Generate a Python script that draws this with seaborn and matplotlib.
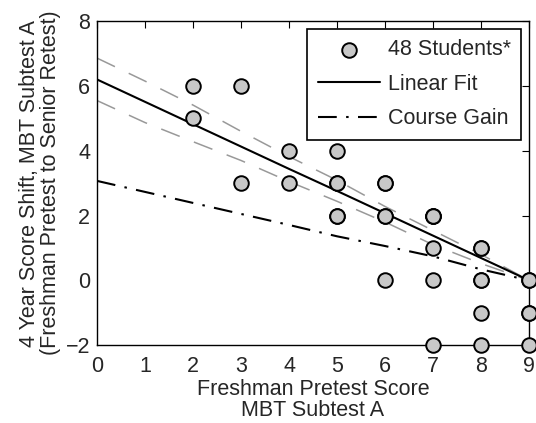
import matplotlib
matplotlib.use("Agg")
import matplotlib.pyplot as plt
import seaborn as sns
import pandas as pd

# Student scores (duplicates are drawn on top of each other)
pretest = [2, 2, 3, 3, 4, 4, 5, 5, 5, 5, 5, 6, 6, 6, 6, 6,
           7, 7, 7, 7, 7, 7, 8, 8, 8, 8, 8, 8, 9, 9, 9, 9, 9]
shift = [6, 5, 6, 3, 4, 3, 4, 3, 3, 2, 2, 3, 2, 2, 0, 3,
         2, 2, 1, 0, -2, 2, 1, 1, 0, 0, -1, -2, 0, 0, -1, -1, -2]

# Fit curves read at integer pretest scores
fit_x = [0, 1, 2, 3, 4, 5, 6, 7, 8, 9]
fit_y = [6.2, 5.51, 4.82, 4.13, 3.44, 2.76, 2.07, 1.38, 0.69, 0.0]
fit_upper = [6.86, 6.15, 5.41, 4.6, 3.82, 3.09, 2.28, 1.54, 0.8, 0.0]
fit_lower = [5.55, 4.87, 4.28, 3.7, 3.05, 2.44, 1.8, 1.1, 0.52, 0.0]
gain_y = [3.07, 2.73, 2.39, 2.05, 1.71, 1.36, 1.06, 0.74, 0.34, 0.0]

sns.set_style("white")
plt.rcParams["font.family"] = ["Liberation Sans", "DejaVu Sans"]
FS = 15.5

fig, ax = plt.subplots(figsize=(5.36, 4.23), dpi=100)

curves = pd.DataFrame({"x": fit_x, "fit": fit_y, "up": fit_upper,
                       "lo": fit_lower, "gain": gain_y})

sns.lineplot(data=curves, x="x", y="up", ax=ax, color="#999999", lw=1.1,
             linestyle=(0, (13, 10)))
sns.lineplot(data=curves, x="x", y="lo", ax=ax, color="#999999", lw=1.1,
             linestyle=(0, (13, 10)))
sns.lineplot(data=curves, x="x", y="fit", ax=ax, color="black", lw=1.5,
             label="Linear Fit")
sns.lineplot(data=curves, x="x", y="gain", ax=ax, color="black", lw=1.5,
             linestyle=(0, (9, 4.5, 1.2, 4.5)), label="Course Gain")

pts = pd.DataFrame({"pretest": pretest, "shift": shift})
sns.scatterplot(data=pts, x="pretest", y="shift", ax=ax, s=110,
                color="#c8c8c8", edgecolor="black", linewidth=1.4,
                label="48 Students*", zorder=5, clip_on=False)

ax.set_xlim(0, 9)
ax.set_ylim(-2, 8)
ax.set_xticks(range(0, 10))
ax.set_yticks(range(-2, 9, 2))
ax.set_yticklabels(["\u22122", "0", "2", "4", "6", "8"])
ax.tick_params(direction="in", top=True, right=True, labelsize=FS,
               length=5, width=0.8, color="black")
ax.tick_params(axis="x", pad=8)
ax.tick_params(axis="y", pad=5)
for sp in ax.spines.values():
    sp.set_color("black")
    sp.set_linewidth(1.0)

ax.set_xlabel("Freshman Pretest Score\nMBT Subtest A", fontsize=FS,
              linespacing=1.0, labelpad=1.5)
ax.set_ylabel("4 Year Score Shift, MBT Subtest A\n(Freshman Pretest to Senior Retest)",
              fontsize=FS, linespacing=1.0, labelpad=3)

handles, labels = ax.get_legend_handles_labels()
order = [labels.index("48 Students*"), labels.index("Linear Fit"),
         labels.index("Course Gain")]
leg = ax.legend([handles[i] for i in order], [labels[i] for i in order],
                loc="upper right", fontsize=FS, frameon=True, fancybox=False,
                edgecolor="black", framealpha=1, borderpad=0.5,
                handlelength=2.9, handletextpad=0.35, labelspacing=0.62,
                borderaxespad=0.35)
leg.get_frame().set_linewidth(1.2)

fig.subplots_adjust(left=0.181, right=0.987, top=0.95, bottom=0.184)
fig.savefig("out.png", dpi=100)
